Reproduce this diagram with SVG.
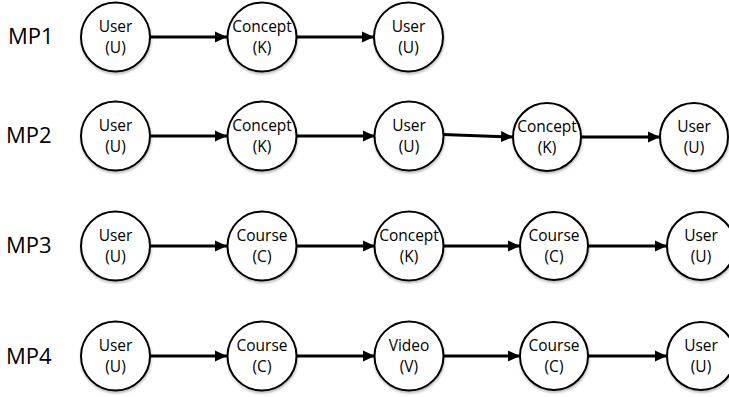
<svg xmlns="http://www.w3.org/2000/svg" width="729" height="397" viewBox="0 0 729 397">
<style>
.node circle{fill:#fff;stroke:#000;stroke-width:2;filter:url(#sh)}
.node text{font-family:"Open Sans","Noto Sans",sans-serif;font-size:15.5px;text-anchor:middle;fill:#000}
.lbl{font-family:"Open Sans","Noto Sans",sans-serif;font-size:22px;fill:#000}
.edge{stroke:#000;stroke-width:3;fill:none;marker-end:url(#ah)}
</style>
<defs>
<marker id="ah" markerUnits="userSpaceOnUse" markerWidth="13" markerHeight="12" refX="12" refY="6" orient="auto">
<path d="M0,0.5 L12,6 L0,11.5 Z" fill="#000"/>
</marker>
<filter id="sh" x="-20%" y="-20%" width="140%" height="150%">
<feDropShadow dx="0.5" dy="2" stdDeviation="1.2" flood-color="#000" flood-opacity="0.25"/>
</filter>
</defs>
<rect width="729" height="397" fill="#fff"/>
<g id="labels">
<text class="lbl" x="8" y="44">MP1</text>
<text class="lbl" x="6" y="143">MP2</text>
<text class="lbl" x="6" y="253">MP3</text>
<text class="lbl" x="6" y="364">MP4</text>
</g>
<g id="connectors">
<line class="edge" x1="150" y1="37" x2="227" y2="37"/>
<line class="edge" x1="296" y1="37" x2="374" y2="37"/>
<line class="edge" x1="150" y1="136" x2="227" y2="136"/>
<line class="edge" x1="296" y1="136" x2="375" y2="136"/>
<line class="edge" x1="443" y1="134.5" x2="513" y2="137"/>
<line class="edge" x1="581" y1="137" x2="660" y2="137"/>
<line class="edge" x1="150" y1="246" x2="227" y2="246"/>
<line class="edge" x1="296" y1="246" x2="375" y2="246"/>
<line class="edge" x1="443" y1="246" x2="520" y2="246"/>
<line class="edge" x1="588" y1="246" x2="667" y2="246"/>
<line class="edge" x1="150" y1="356" x2="227" y2="356"/>
<line class="edge" x1="296" y1="356" x2="375" y2="356"/>
<line class="edge" x1="443" y1="356" x2="520" y2="356"/>
<line class="edge" x1="588" y1="356" x2="667" y2="356"/>
</g>
<g id="mp1_u1" class="node"><circle cx="115.5" cy="37" r="34.5"/><text x="115.5" y="32">User</text><text x="115.5" y="53">(U)</text></g>
<g id="mp1_k" class="node"><circle cx="262" cy="37" r="34.5"/><text x="262" y="32">Concept</text><text x="262" y="53">(K)</text></g>
<g id="mp1_u2" class="node"><circle cx="408.5" cy="37" r="34.5"/><text x="408.5" y="32">User</text><text x="408.5" y="53">(U)</text></g>

<g id="mp2_u1" class="node"><circle cx="115.5" cy="136" r="34.5"/><text x="115.5" y="131">User</text><text x="115.5" y="152">(U)</text></g>
<g id="mp2_k1" class="node"><circle cx="262" cy="136" r="34.5"/><text x="262" y="131">Concept</text><text x="262" y="152">(K)</text></g>
<g id="mp2_u2" class="node"><circle cx="409" cy="136" r="34.5"/><text x="409" y="131">User</text><text x="409" y="152">(U)</text></g>
<g id="mp2_k2" class="node"><circle cx="547" cy="137" r="34"/><text x="547" y="132">Concept</text><text x="547" y="153">(K)</text></g>
<g id="mp2_u3" class="node"><circle cx="694" cy="137" r="34"/><text x="694" y="132">User</text><text x="694" y="153">(U)</text></g>

<g id="mp3_u1" class="node"><circle cx="115.5" cy="246" r="34.5"/><text x="115.5" y="241">User</text><text x="115.5" y="262">(U)</text></g>
<g id="mp3_c1" class="node"><circle cx="262" cy="246" r="34.5"/><text x="262" y="241">Course</text><text x="262" y="262">(C)</text></g>
<g id="mp3_k" class="node"><circle cx="409" cy="246" r="34.5"/><text x="409" y="241">Concept</text><text x="409" y="262">(K)</text></g>
<g id="mp3_c2" class="node"><circle cx="554" cy="246" r="34"/><text x="554" y="241">Course</text><text x="554" y="262">(C)</text></g>
<g id="mp3_u2" class="node"><circle cx="701" cy="246" r="34"/><text x="701" y="241">User</text><text x="701" y="262">(U)</text></g>

<g id="mp4_u1" class="node"><circle cx="115.5" cy="356" r="34.5"/><text x="115.5" y="351">User</text><text x="115.5" y="372">(U)</text></g>
<g id="mp4_c1" class="node"><circle cx="262" cy="356" r="34.5"/><text x="262" y="351">Course</text><text x="262" y="372">(C)</text></g>
<g id="mp4_v" class="node"><circle cx="409" cy="356" r="34.5"/><text x="409" y="351">Video</text><text x="409" y="372">(V)</text></g>
<g id="mp4_c2" class="node"><circle cx="554" cy="356" r="34"/><text x="554" y="351">Course</text><text x="554" y="372">(C)</text></g>
<g id="mp4_u2" class="node"><circle cx="701" cy="356" r="34"/><text x="701" y="351">User</text><text x="701" y="372">(U)</text></g>
</svg>
